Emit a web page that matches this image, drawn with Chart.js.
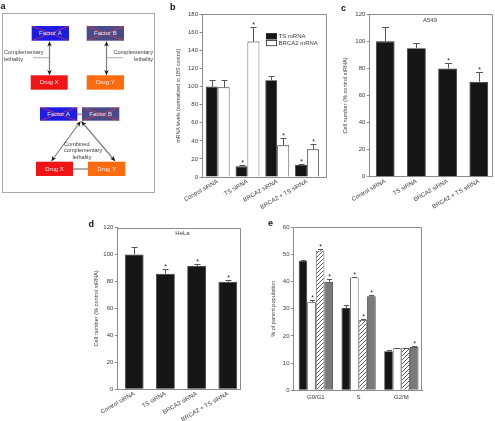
<!DOCTYPE html>
<html>
<head>
<meta charset="utf-8">
<script src="https://cdn.jsdelivr.net/npm/chart.js@4.4.1/dist/chart.umd.min.js"></script>
<style>
  html, body { margin: 0; padding: 0; background: #fff; }
  body { width: 495px; height: 421px; position: relative; overflow: hidden; }
  canvas { position: absolute; }
</style>
</head>
<body>
<canvas id="pa" width="160" height="200" style="left:0;top:0"></canvas>
<canvas id="pb" width="172" height="225" style="left:160px;top:0"></canvas>
<canvas id="pc" width="160" height="225" style="left:335px;top:0"></canvas>
<canvas id="pd" width="180" height="206" style="left:70px;top:215px"></canvas>
<canvas id="pe" width="180" height="206" style="left:255px;top:215px"></canvas>
<script>
(function () {
  'use strict';

  /* ------------------------------------------------ data ------------------------------------------------ */
  const sirnaLabels = ['Control siRNA', 'TS siRNA', 'BRCA2 siRNA', 'BRCA2 + TS siRNA'];

  // b – mRNA levels (normalized to 18S control)
  const tsMrna       = [100, 11.8, 107, 13.2];
  const tsMrnaErr    = [7.3, 1.8, 4.4, 1.2];
  const tsMrnaStar   = [false, true, false, true];
  const brcaMrna     = [99.2, 149.8, 35, 30.6];
  const brcaMrnaErr  = [8.5, 15.8, 7.8, 5.9];
  const brcaMrnaStar = [false, true, true, true];

  // c – A549 cell number
  const a549Cells = [100, 95, 80, 70.2];
  const a549Err   = [10.4, 3.6, 3.7, 7.4];
  const a549Star  = [false, false, true, true];

  // d – HeLa cell number
  const helaCells = [100, 85.7, 91.4, 79.8];
  const helaErr   = [5.4, 3.7, 1.7, 0.9];
  const helaStar  = [false, true, true, true];

  // e – cell cycle phases (% of parent population)
  const phaseLabels = ['G0/G1', 'S', 'G2/M'];
  const cycCtrl     = [47.7, 30.3, 14.4];
  const cycCtrlErr  = [0.4, 1.0, 0.4];
  const cycCtrlStar = [false, false, false];
  const cycTs       = [32.4, 41.5, 15.5];
  const cycTsErr    = [0.8, 0.3, 0.2];
  const cycTsStar   = [true, true, false];
  const cycBrca     = [51.4, 25.8, 15.5];
  const cycBrcaErr  = [0.7, 0.6, 0.2];
  const cycBrcaStar = [true, true, false];
  const cycBoth     = [39.9, 34.6, 16.0];
  const cycBothErr  = [1.2, 0.5, 0.3];
  const cycBothStar = [true, true, true];

  // a – diagram node names
  const factorNames = ['Factor A', 'Factor B'];
  const drugNames   = ['Drug X', 'Drug Y'];

  /* ------------------------------------------------ style ----------------------------------------------- */
  const FONT = "'Liberation Sans', Arial, Helvetica, sans-serif";
  const AXIS = '#8c8c8c';
  const TXT  = '#3a3a3a';
  const BLACK = '#161616';
  const GREY  = '#7a7a7a';
  const EDGE  = '#2a2a2a';

  Chart.defaults.font.family = FONT;

  function pts(values) {
    return values.map((v, i) => ({ x: i + 1, y: v }));
  }

  function hatchPattern(canvasId) {
    const c = document.createElement('canvas');
    c.width = 4; c.height = 4;
    const g = c.getContext('2d');
    g.fillStyle = '#fff';
    g.fillRect(0, 0, 4, 4);
    g.strokeStyle = '#4a4a4a';
    g.lineWidth = 0.9;
    g.beginPath();
    g.moveTo(0, 4); g.lineTo(4, 0);
    g.moveTo(-1, 1); g.lineTo(1, -1);
    g.moveTo(3, 5); g.lineTo(5, 3);
    g.stroke();
    return document.getElementById(canvasId).getContext('2d').createPattern(c, 'repeat');
  }

  /* ------------------------------------------------ plugins --------------------------------------------- */
  // error bars (upper only) + significance stars, frame, inner title, panel letter, legend
  const deco = {
    id: 'deco',
    afterDatasetsDraw(chart, args, opts) {
      const ctx = chart.ctx;
      const ys = chart.scales.y;
      const cap = opts.cap || 6;
      chart.data.datasets.forEach((ds, di) => {
        if (!ds.errors) return;
        const meta = chart.getDatasetMeta(di);
        meta.data.forEach((bar, i) => {
          const x = Math.round(bar.x) + 0.5;
          const top = Math.round(ys.getPixelForValue(ds.data[i].y + ds.errors[i])) + 0.5;
          ctx.save();
          ctx.strokeStyle = '#555';
          ctx.lineWidth = 1;
          ctx.beginPath();
          ctx.moveTo(x, bar.y);
          ctx.lineTo(x, top);
          ctx.moveTo(x - cap / 2, top);
          ctx.lineTo(x + cap / 2, top);
          ctx.stroke();
          if (ds.stars && ds.stars[i]) {
            ctx.fillStyle = '#222';
            ctx.font = '7px ' + FONT;
            ctx.textAlign = 'center';
            ctx.textBaseline = 'alphabetic';
            ctx.fillText('*', x, top - 0.8);
          }
          ctx.restore();
        });
      });
    },
    afterDraw(chart, args, opts) {
      const ctx = chart.ctx;
      const a = chart.chartArea;
      ctx.save();
      if (opts.frame) {
        ctx.strokeStyle = AXIS;
        ctx.lineWidth = 1;
        ctx.beginPath();
        ctx.moveTo(Math.round(a.left) + 0.5, Math.round(a.top) + 0.5);
        ctx.lineTo(Math.round(a.right) - 0.5, Math.round(a.top) + 0.5);
        ctx.lineTo(Math.round(a.right) - 0.5, Math.round(a.bottom));
        ctx.stroke();
      }
      if (opts.inner) {
        ctx.fillStyle = TXT;
        ctx.font = '6px ' + FONT;
        ctx.textAlign = 'center';
        ctx.textBaseline = 'middle';
        ctx.fillText(opts.inner.text, (a.left + a.right) / 2 + opts.inner.dx, a.top + 6.3);
      }
      if (opts.letter) {
        ctx.fillStyle = '#111';
        ctx.font = 'bold 9px ' + FONT;
        ctx.textAlign = 'left';
        ctx.textBaseline = 'alphabetic';
        ctx.fillText(opts.letter.text, opts.letter.x, opts.letter.y);
      }
      if (opts.legend) {
        const L = opts.legend;
        chart.data.datasets.forEach((ds, i) => {
          const y = L.y + i * L.step;
          ctx.fillStyle = ds.backgroundColor;
          ctx.fillRect(L.x, y, 11, 6);
          ctx.strokeStyle = EDGE;
          ctx.lineWidth = 0.8;
          ctx.strokeRect(L.x + 0.4, y + 0.4, 10.2, 5.2);
          ctx.fillStyle = TXT;
          ctx.font = '6px ' + FONT;
          ctx.textAlign = 'left';
          ctx.textBaseline = 'middle';
          ctx.fillText(ds.label, L.x + 12.5, y + 3.3);
        });
      }
      ctx.restore();
    }
  };

  // panel a: complementary lethality scheme, drawn in the chart's own value space
  const diagram = {
    id: 'diagram',
    afterDraw(chart) {
      const ctx = chart.ctx;
      const X = v => chart.scales.x.getPixelForValue(v);
      const Y = v => chart.scales.y.getPixelForValue(v);

      function line(x1, y1, x2, y2, col, w) {
        ctx.strokeStyle = col;
        ctx.lineWidth = w;
        ctx.beginPath();
        ctx.moveTo(X(x1), Y(y1));
        ctx.lineTo(X(x2), Y(y2));
        ctx.stroke();
      }
      function head(xt, yt, xf, yf) {
        const ang = Math.atan2(Y(yt) - Y(yf), X(xt) - X(xf));
        const len = 5, hw = 2.3;
        ctx.save();
        ctx.translate(X(xt), Y(yt));
        ctx.rotate(ang);
        ctx.fillStyle = '#111';
        ctx.beginPath();
        ctx.moveTo(0, 0);
        ctx.lineTo(-len, -hw);
        ctx.lineTo(-len * 0.7, 0);
        ctx.lineTo(-len, hw);
        ctx.closePath();
        ctx.fill();
        ctx.restore();
      }
      function arrow(x1, y1, x2, y2) {
        line(x1, y1, x2, y2, '#7d7d7d', 1.2);
        head(x1, y1, x2, y2);
        head(x2, y2, x1, y1);
      }
      function box(x, y, w, h, col, label, crossed) {
        ctx.fillStyle = col;
        ctx.fillRect(X(x), Y(y), X(x + w) - X(x), Y(y + h) - Y(y));
        if (crossed) {
          line(x, y, x + w, y + h, '#e23a3a', 0.7);
          line(x, y + h, x + w, y, '#e23a3a', 0.7);
        }
        ctx.fillStyle = '#ececf4';
        ctx.font = '6px ' + FONT;
        ctx.textAlign = 'center';
        ctx.textBaseline = 'middle';
        ctx.fillText(label, X(x + w / 2), Y(y + h / 2 + 0.3));
      }
      function text(str, x, y, align) {
        ctx.fillStyle = TXT;
        ctx.font = '5.6px ' + FONT;
        ctx.textAlign = align;
        ctx.textBaseline = 'middle';
        ctx.fillText(str, X(x), Y(y));
      }

      ctx.save();
      // frame
      ctx.strokeStyle = '#a8a8a8';
      ctx.lineWidth = 1;
      ctx.strokeRect(X(2.5), Y(13.5), X(154.5) - X(2.5), Y(192.5) - Y(13.5));

      // top half: single complementary lethality
      line(33, 57.7, 49.5, 57.7, '#9a9a9a', 0.8);
      line(106.5, 57.7, 123, 57.7, '#9a9a9a', 0.8);
      arrow(49.5, 41.5, 49.5, 75);
      arrow(106.5, 41.5, 106.5, 75);
      box(31.7, 26, 37.3, 14.7, '#1c1ce4', factorNames[0], true);
      box(86.7, 26, 37.3, 14.7, '#4a4a8a', factorNames[1], true);
      box(30.7, 75.3, 37, 14.4, '#f01414', drugNames[0], false);
      box(86.7, 75.3, 37.3, 14.4, '#ff6c10', drugNames[1], false);
      text('Complementary', 4, 52.3, 'left');
      text('lethality', 4, 59.2, 'left');
      text('Complementary', 153, 52.3, 'right');
      text('lethality', 153, 59.2, 'right');

      // bottom half: combined
      line(77, 114.3, 82, 114.3, '#9a9a9a', 1.6);
      line(73, 169, 88, 169, '#9a9a9a', 1.6);
      arrow(80.5, 121.5, 51.5, 161);
      arrow(81.5, 121.5, 115, 161);
      box(40, 107.3, 37.3, 13.4, '#1c1ce4', factorNames[0], true);
      box(82, 107.3, 37.3, 13.4, '#4a4a8a', factorNames[1], true);
      box(36, 161.7, 37, 14.3, '#f01414', drugNames[0], false);
      box(88, 161.7, 37.3, 14.3, '#ff6c10', drugNames[1], false);
      text('Combined', 64, 144, 'left');
      text('complementary', 64, 150.8, 'left');
      text('lethality', 72.5, 157.6, 'left');
      ctx.restore();
    }
  };

  /* ------------------------------------------------ axes ------------------------------------------------ */
  function yAxis(max, step, title, yW, titlePad, titleSize) {
    return {
      type: 'linear', min: 0, max: max,
      ticks: { stepSize: step, color: TXT, font: { family: FONT, size: 6 }, padding: 1.5 },
      grid: { drawOnChartArea: false, color: AXIS, tickLength: 2.5, lineWidth: 1 },
      border: { color: AXIS, width: 1 },
      title: { display: true, text: title, color: TXT, font: { family: FONT, size: titleSize || 5.6 },
               padding: { top: titlePad, bottom: 0 } },
      afterFit: s => { s.width = yW; }
    };
  }

  function xAxis(labels, min, max, rot, xH, pad) {
    return {
      type: 'linear', min: min, max: max, offset: false,
      afterBuildTicks: s => { s.ticks = labels.map((_, i) => ({ value: i + 1 })); },
      ticks: {
        callback: v => labels[v - 1], autoSkip: false,
        minRotation: rot, maxRotation: rot,
        color: TXT, font: { family: FONT, size: 6 }, padding: pad
      },
      grid: { display: false, drawTicks: false },
      border: { color: AXIS, width: 1 },
      afterFit: s => { s.height = xH; }
    };
  }

  function barSet(label, values, errors, stars, fill) {
    return {
      label: label, data: pts(values), errors: errors, stars: stars,
      backgroundColor: fill, borderColor: EDGE, borderWidth: 0.8,
      categoryPercentage: 0.8, barPercentage: 1.0
    };
  }

  function baseOptions(padding, scales, decoOpts) {
    return {
      responsive: false, animation: false, events: [],
      layout: { padding: padding },
      scales: scales,
      plugins: { legend: { display: false }, tooltip: { enabled: false }, deco: decoOpts }
    };
  }

  /* ------------------------------------------------ charts ---------------------------------------------- */
  // a
  new Chart(document.getElementById('pa'), {
    type: 'scatter',
    data: { datasets: [] },
    options: baseOptions(0, {
      x: { type: 'linear', display: false, min: 0, max: 160 },
      y: { type: 'linear', display: false, min: 0, max: 200, reverse: true }
    }, { letter: { text: 'a', x: 0.5, y: 9 } }),
    plugins: [diagram, deco]
  });

  // b
  new Chart(document.getElementById('pb'), {
    type: 'bar',
    data: {
      datasets: [
        barSet('TS mRNA', tsMrna, tsMrnaErr, tsMrnaStar, BLACK),
        barSet('BRCA2 mRNA', brcaMrna, brcaMrnaErr, brcaMrnaStar, '#ffffff')
      ]
    },
    options: baseOptions({ top: 14.3, right: 5.5, left: 0, bottom: 0 }, {
      x: xAxis(sirnaLabels, 0.473, 4.655, 30, 48, 1),
      y: yAxis(180, 20, 'mRNA levels (normalized to 18S control)', 42, 15, 5.2)
    }, { frame: true, cap: 6, letter: { text: 'b', x: 10, y: 9.5 }, legend: { x: 106, y: 33.3, step: 6.8 } }),
    plugins: [deco]
  });

  // c
  const cSet = barSet('A549', a549Cells, a549Err, a549Star, BLACK);
  cSet.categoryPercentage = 0.6;
  new Chart(document.getElementById('pc'), {
    type: 'bar',
    data: { datasets: [cSet] },
    options: baseOptions({ top: 14.3, right: 2.3, left: 0, bottom: 0 }, {
      x: xAxis(sirnaLabels, 0.49, 4.446, 30, 48.3, 1),
      y: yAxis(120, 20, 'Cell number (% control siRNA)', 34.3, 6.7)
    }, { frame: true, cap: 7, inner: { text: 'A549', dx: -1 }, letter: { text: 'c', x: 6, y: 10.5 } }),
    plugins: [deco]
  });

  // d
  const dSet = barSet('HeLa', helaCells, helaErr, helaStar, BLACK);
  dSet.categoryPercentage = 0.6;
  new Chart(document.getElementById('pd'), {
    type: 'bar',
    data: { datasets: [dSet] },
    options: baseOptions({ top: 12.5, right: 9.3, left: 0, bottom: 0 }, {
      x: xAxis(sirnaLabels, 0.458, 4.413, 30, 31.7, 1),
      y: yAxis(120, 20, 'Cell number (% control siRNA)', 47.3, 23.4)
    }, { frame: true, cap: 6, inner: { text: 'HeLa', dx: 3.5 }, letter: { text: 'd', x: 18.5, y: 11.5 } }),
    plugins: [deco]
  });

  // e
  new Chart(document.getElementById('pe'), {
    type: 'bar',
    data: {
      datasets: [
        barSet(sirnaLabels[0], cycCtrl, cycCtrlErr, cycCtrlStar, BLACK),
        barSet(sirnaLabels[1], cycTs, cycTsErr, cycTsStar, '#ffffff'),
        barSet(sirnaLabels[2], cycBrca, cycBrcaErr, cycBrcaStar, hatchPattern('pe')),
        barSet(sirnaLabels[3], cycBoth, cycBothErr, cycBothStar, GREY)
      ]
    },
    options: baseOptions({ top: 12.3, right: 12.7, left: 0, bottom: 0 }, {
      x: xAxis(phaseLabels, 0.478, 3.49, 0, 30.7, 3),
      y: yAxis(60, 10, '% of parent population', 38.5, 14.7)
    }, { frame: true, cap: 5, letter: { text: 'e', x: 13, y: 11 } }),
    plugins: [deco]
  });
})();
</script>
</body>
</html>
